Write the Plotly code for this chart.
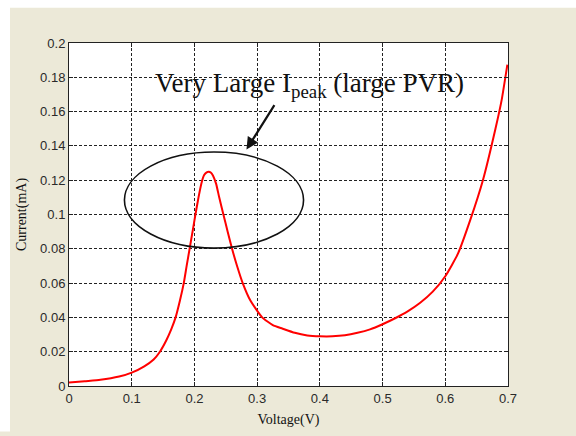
import plotly.graph_objects as go

# I-V curve of a resonant tunnelling diode (voltage in V, current in mA)
voltage = [0.0, 0.025, 0.05, 0.08, 0.1, 0.12, 0.135, 0.145, 0.155, 0.163,
           0.17, 0.177, 0.183, 0.1876, 0.1923, 0.197, 0.2016, 0.2065, 0.211,
           0.2155, 0.2195, 0.2228, 0.226, 0.2295, 0.2345, 0.2395, 0.2462,
           0.253, 0.26, 0.268, 0.277, 0.289, 0.308, 0.325, 0.34, 0.36, 0.38,
           0.4, 0.42, 0.44, 0.46, 0.48, 0.5, 0.52, 0.54, 0.56, 0.58, 0.6,
           0.62, 0.64, 0.66, 0.68, 0.69, 0.699]
current = [0.002, 0.0028, 0.0036, 0.0055, 0.0078, 0.0115, 0.0155, 0.02,
           0.0265, 0.033, 0.04, 0.05, 0.06, 0.07, 0.08, 0.09, 0.1, 0.11,
           0.118, 0.123, 0.1246, 0.125, 0.1245, 0.1228, 0.118, 0.11, 0.1,
           0.09, 0.08, 0.07, 0.06, 0.05, 0.04, 0.0355, 0.0335, 0.031, 0.0295,
           0.029, 0.029, 0.0296, 0.031, 0.033, 0.036, 0.0395, 0.0435, 0.0485,
           0.055, 0.064, 0.077, 0.097, 0.12, 0.15, 0.167, 0.1874]

x_ticks = [0, 0.1, 0.2, 0.3, 0.4, 0.5, 0.6, 0.7]
y_ticks = [0, 0.02, 0.04, 0.06, 0.08, 0.1, 0.12, 0.14, 0.16, 0.18, 0.2]
x_labels = ["0", "0.1", "0.2", "0.3", "0.4", "0.5", "0.6", "0.7"]
y_labels = ["0", "0.02", "0.04", "0.06", "0.08", "0.1", "0.12", "0.14",
            "0.16", "0.18", "0.2"]

W, H = 576, 436
L, R, T, B = 69, 68, 43, 43
pw, ph = W - L - R, H - T - B
BEIGE = "#ECE9D8"

fig = go.Figure()
fig.add_trace(go.Scatter(
    x=voltage, y=current, mode="lines",
    line=dict(color="#FF0000", width=2, shape="spline", smoothing=0.5),
    hoverinfo="skip", showlegend=False,
))

axis_common = dict(
    showline=True, linecolor="#222222", linewidth=1, mirror="allticks",
    ticks="inside", ticklen=4, tickcolor="#222222",
    showgrid=True, gridcolor="#222222", gridwidth=1, griddash="3px,2px",
    zeroline=False,
    tickfont=dict(family="Liberation Sans, Arial", size=13, color="#2a2a2a"),
)

fig.update_xaxes(range=[0, 0.7], tickvals=x_ticks, ticktext=x_labels,
                 title=dict(text="Voltage(V)", standoff=9,
                            font=dict(family="Liberation Serif", size=14,
                                      color="#111111")),
                 **axis_common)
fig.update_yaxes(range=[0, 0.2], tickvals=y_ticks, ticktext=y_labels,
                 title=dict(text="Current(mA)", standoff=10,
                            font=dict(family="Liberation Serif", size=14,
                                      color="#111111")),
                 **axis_common)

shapes = [
    # highlight ellipse round the current peak
    dict(type="circle", xref="x", yref="y", x0=0.0884, x1=0.374,
         y0=0.0804, y1=0.1364, line=dict(color="#111111", width=1.6)),
    # white window strips at the top and left edges
    dict(type="rect", xref="paper", yref="paper", layer="below",
         x0=-L / pw - 0.01, x1=(W - L) / pw + 0.01,
         y0=1 + (T - 7) / ph, y1=1 + T / ph + 0.01,
         fillcolor="white", line=dict(width=0)),
    dict(type="rect", xref="paper", yref="paper", layer="below",
         x0=-L / pw - 0.01, x1=-(L - 10) / pw,
         y0=-B / ph - 0.01, y1=1 + T / ph + 0.01,
         fillcolor="white", line=dict(width=0)),
]

annotations = [
    dict(x=0.3835, y=0.1755, xref="x", yref="y", showarrow=False,
         text="Very Large I<sub>peak</sub> (large PVR)",
         font=dict(family="Liberation Serif", size=27, color="#111111"),
         bgcolor="rgba(0,0,0,0)"),
    dict(x=0.283, y=0.1379, xref="x", yref="y", axref="x", ayref="y",
         ax=0.329, ay=0.1646, text="", showarrow=True, arrowhead=2,
         arrowsize=1.1, arrowwidth=2.2, arrowcolor="#111111"),
]

fig.update_layout(
    width=W, height=H,
    margin=dict(l=L, r=R, t=T, b=B, pad=0),
    paper_bgcolor=BEIGE, plot_bgcolor="white",
    shapes=shapes, annotations=annotations,
    showlegend=False,
)

fig.write_html("out.html")
